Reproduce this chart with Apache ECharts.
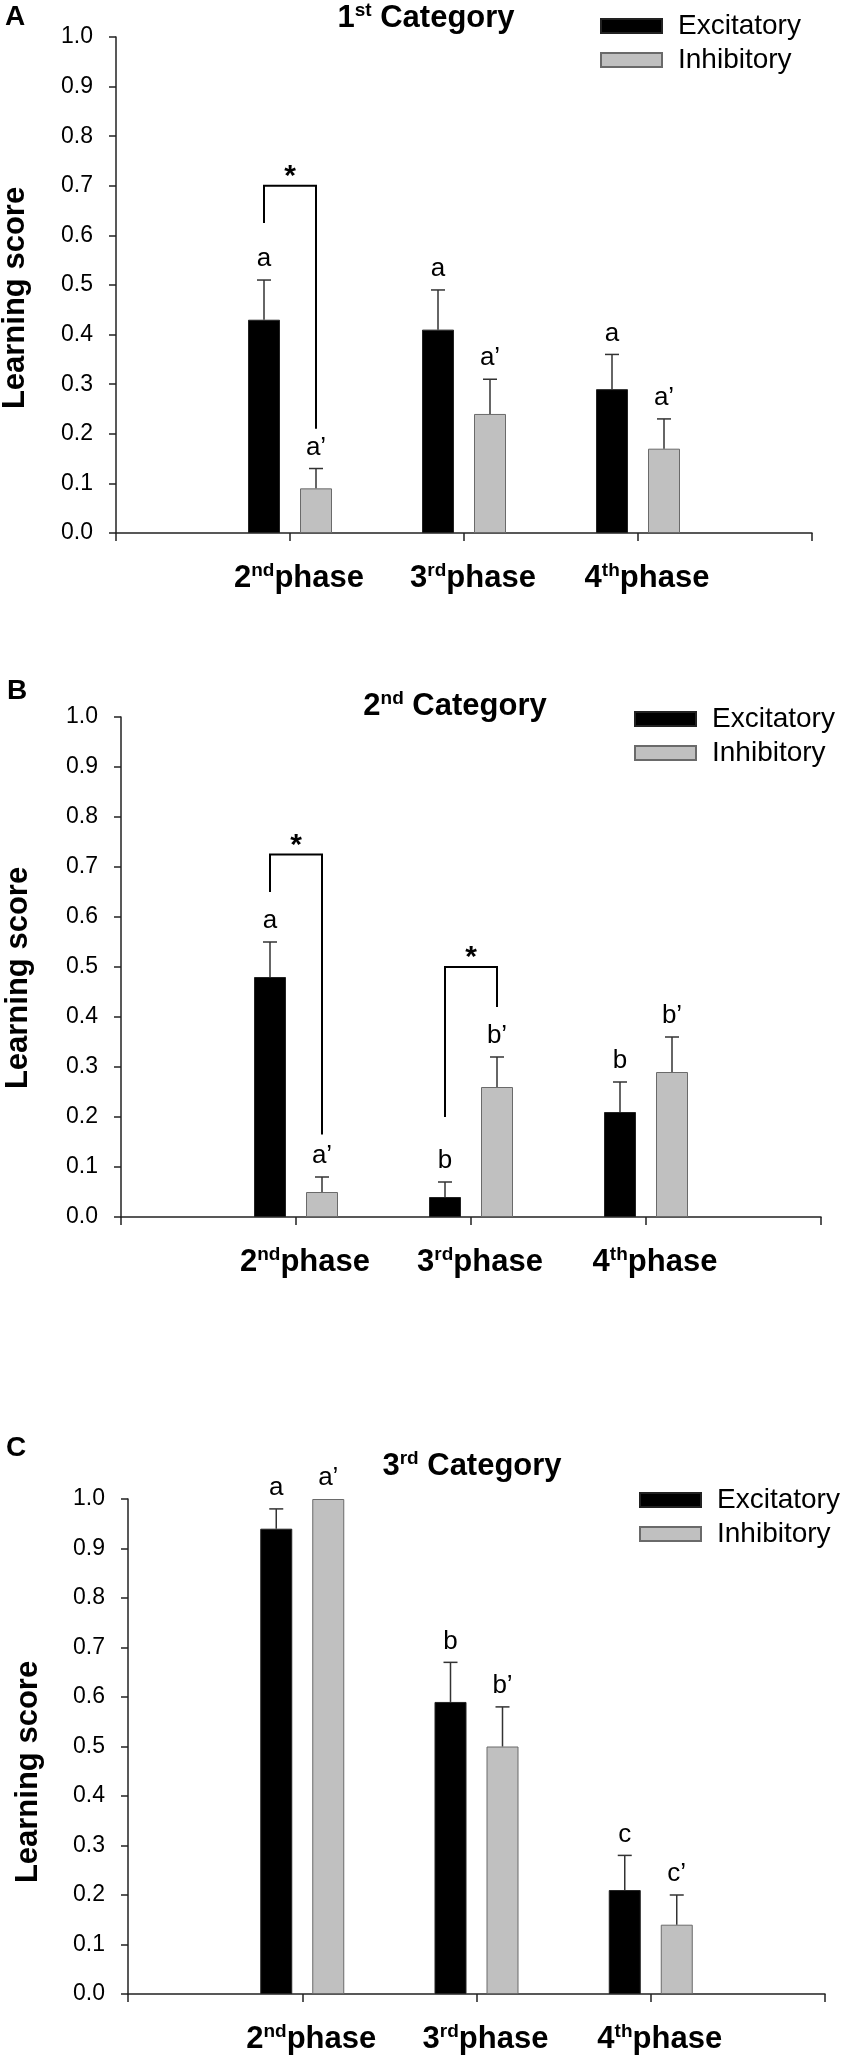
<!DOCTYPE html>
<html>
<head>
<meta charset="utf-8">
<title>Learning score</title>
<script src="https://cdn.jsdelivr.net/npm/echarts@6/dist/echarts.min.js"></script>
<style>
  html, body { margin: 0; padding: 0; background: #fff; }
  #chart { width: 843px; height: 2060px; }
</style>
</head>
<body>
<div id="chart"></div>
<script>
// ---- 数据 ----
var categories = ['', '2nd phase', '3rd phase', '4th phase', ''];
var seriesNames = ['Excitatory', 'Inhibitory'];
var panelLetters = ['A', 'B', 'C'];
var panelTitles = ['1st Category', '2nd Category', '3rd Category'];
var yName = 'Learning score';
var yMin = 0, yMax = 1, yStep = 0.1;

// A: 1st Category
var excA = [0.43, 0.41, 0.29];
var excSemA = [0.08, 0.08, 0.07];
var inhA = [0.09, 0.24, 0.17];
var inhSemA = [0.04, 0.07, 0.06];
var excLetA = ['a', 'a', 'a'];
var inhLetA = ['a’', 'a’', 'a’'];
var bracketsA = [[1, 0.70, 0.625, 0.21]];   // [phase, top, left foot, right foot]

// B: 2nd Category
var excB = [0.48, 0.04, 0.21];
var excSemB = [0.07, 0.03, 0.06];
var inhB = [0.05, 0.26, 0.29];
var inhSemB = [0.03, 0.06, 0.07];
var excLetB = ['a', 'b', 'b'];
var inhLetB = ['a’', 'b’', 'b’'];
var bracketsB = [[1, 0.725, 0.65, 0.165], [2, 0.50, 0.20, 0.42]];

// C: 3rd Category
var excC = [0.94, 0.59, 0.21];
var excSemC = [0.04, 0.08, 0.07];
var inhC = [1.00, 0.50, 0.14];
var inhSemC = [0, 0.08, 0.06];
var excLetC = ['a', 'b', 'c'];
var inhLetC = ['a’', 'b’', 'c’'];
var bracketsC = [];

var starMark = '*';

// ---- 版式 ----
var FONT = '"Liberation Sans", Arial, Helvetica, sans-serif';
var BAR_W = 32, BAR_GAP_PX = 20;
var BAR_OFFSET = (BAR_W + BAR_GAP_PX) / 2;

var panels = [
  { grid: { left: 116, top: 37, width: 696, height: 496 }, title: [426, 18], letter: [5, 17], legend: [600, 12], yNamePos: [15, 298],
    exc: excA, excSem: excSemA, inh: inhA, inhSem: inhSemA, excLet: excLetA, inhLet: inhLetA, brackets: bracketsA },
  { grid: { left: 121, top: 717, width: 700, height: 500 }, title: [455, 706], letter: [7, 691], legend: [634, 705], yNamePos: [18, 978],
    exc: excB, excSem: excSemB, inh: inhB, inhSem: inhSemB, excLet: excLetB, inhLet: inhLetB, brackets: bracketsB },
  { grid: { left: 128, top: 1499, width: 697, height: 495 }, title: [472, 1466], letter: [6, 1448], legend: [639, 1486], yNamePos: [28, 1772],
    exc: excC, excSem: excSemC, inh: inhC, inhSem: inhSemC, excLet: excLetC, inhLet: inhLetC, brackets: bracketsC }
];

// "2nd phase" -> 上标
function supText(str) {
  var m = str.match(/^(\d+)([a-z]{2})(.*)$/);
  if (!m) return str;
  return '{n|' + m[1] + '}{s|' + m[2] + '}{n|' + m[3] + '}';
}
var supRich = {
  n: { fontSize: 31, fontWeight: 'bold', fontFamily: FONT, color: '#000', lineHeight: 34, verticalAlign: 'middle' },
  s: { fontSize: 19, fontWeight: 'bold', fontFamily: FONT, color: '#000', lineHeight: 18, verticalAlign: 'top' }
};

function padData(arr) {
  return ['-'].concat(arr, ['-']);
}

// 误差线 + 显著性字母
function errSeries(p, means, sems, letters, side) {
  return {
    type: 'custom', xAxisIndex: p, yAxisIndex: p, silent: true, z: 4,
    data: means.map(function (m, i) { return [i + 1, m, sems[i]]; }),
    renderItem: function (params, api) {
      var cat = api.value(0), m = api.value(1), s = api.value(2);
      var base = api.coord([cat, m]);
      var top = api.coord([cat, m + s]);
      var x = base[0] + side * BAR_OFFSET;
      var children = [];
      if (s > 0) {
        children.push({ type: 'line', shape: { x1: x, y1: base[1], x2: x, y2: top[1] }, style: { stroke: '#333', lineWidth: 1.5 } });
        children.push({ type: 'line', shape: { x1: x - 7, y1: top[1], x2: x + 7, y2: top[1] }, style: { stroke: '#333', lineWidth: 1.5 } });
      }
      children.push({
        type: 'text', x: x, y: top[1] - 8,
        style: { text: letters[params.dataIndex], fontSize: 26, fontFamily: FONT, fill: '#000', align: 'center', verticalAlign: 'bottom' }
      });
      return { type: 'group', children: children };
    }
  };
}

// 括号 + 星号
function bracketSeries(p, brackets) {
  return {
    type: 'custom', xAxisIndex: p, yAxisIndex: p, silent: true, z: 5,
    data: brackets,
    renderItem: function (params, api) {
      var cat = api.value(0);
      var pt = api.coord([cat, api.value(1)]);
      var pl = api.coord([cat, api.value(2)]);
      var pr = api.coord([cat, api.value(3)]);
      var xl = pt[0] - BAR_OFFSET, xr = pt[0] + BAR_OFFSET;
      return {
        type: 'group',
        children: [
          { type: 'polyline', shape: { points: [[xl, pl[1]], [xl, pt[1]], [xr, pt[1]], [xr, pr[1]]] },
            style: { stroke: '#000', lineWidth: 2, fill: null } },
          { type: 'text', x: pt[0], y: pt[1] - 9,
            style: { text: starMark, fontSize: 30, fontWeight: 'bold', fontFamily: FONT, fill: '#000', align: 'center', verticalAlign: 'middle' } }
        ]
      };
    }
  };
}

var grids = [], xAxes = [], yAxes = [], series = [], legends = [], graphics = [];

panels.forEach(function (pn, p) {
  grids.push(Object.assign({ outerBoundsMode: 'none', containLabel: false }, pn.grid));

  xAxes.push({
    type: 'category', gridIndex: p, data: categories, boundaryGap: false,
    axisLine: { show: true, lineStyle: { color: '#222', width: 1.5 } },
    axisTick: { show: true, interval: 0, length: 8, lineStyle: { color: '#222', width: 1.5 } },
    axisLabel: {
      interval: 0, margin: 28, padding: [0, 0, 0, 18],
      // 原图中序数与 phase 之间没有空格
      formatter: function (v) { return v ? supText(v.replace(' ', '')) : ''; },
      rich: supRich
    },
    splitLine: { show: false }
  });

  yAxes.push({
    type: 'value', gridIndex: p, min: yMin, max: yMax, interval: yStep,
    axisLine: { show: true, lineStyle: { color: '#222', width: 1.5 } },
    axisTick: { show: true, length: 7, lineStyle: { color: '#222', width: 1.5 } },
    axisLabel: { margin: 23, fontSize: 23, fontFamily: FONT, color: '#000',
      formatter: function (v) { return v.toFixed(1); } },
    splitLine: { show: false }
  });

  series.push({
    name: seriesNames[0], type: 'bar', xAxisIndex: p, yAxisIndex: p,
    data: padData(pn.exc), barWidth: BAR_W, barGap: (BAR_GAP_PX / BAR_W * 100) + '%',
    itemStyle: { color: '#000', borderColor: '#222', borderWidth: 1 }, silent: true
  });
  series.push({
    name: seriesNames[1], type: 'bar', xAxisIndex: p, yAxisIndex: p,
    data: padData(pn.inh), barWidth: BAR_W, barGap: (BAR_GAP_PX / BAR_W * 100) + '%',
    itemStyle: { color: '#c0c0c0', borderColor: '#6a6a6a', borderWidth: 1 }, silent: true
  });
  series.push(errSeries(p, pn.exc, pn.excSem, pn.excLet, -1));
  series.push(errSeries(p, pn.inh, pn.inhSem, pn.inhLet, 1));
  if (pn.brackets.length) series.push(bracketSeries(p, pn.brackets));

  legends.push({
    data: seriesNames, orient: 'vertical', left: pn.legend[0], top: pn.legend[1],
    padding: 0, itemWidth: 61, itemHeight: 14, itemGap: 6, icon: 'rect', selectedMode: false,
    textStyle: { fontSize: 28, lineHeight: 28, fontFamily: FONT, color: '#000', padding: [0, 0, 0, 11] }
  });

  graphics.push({
    type: 'text', x: pn.letter[0], y: pn.letter[1],
    style: { text: panelLetters[p], fontSize: 28, fontWeight: 'bold', fontFamily: FONT, fill: '#000', align: 'left', verticalAlign: 'middle' }
  });
  graphics.push({
    type: 'text', x: pn.title[0], y: pn.title[1],
    style: { text: supText(panelTitles[p]), rich: supRich, align: 'center', verticalAlign: 'middle' }
  });
  // 纵轴标题
  graphics.push({
    type: 'text', x: pn.yNamePos[0], y: pn.yNamePos[1], rotation: Math.PI / 2,
    style: { text: yName, fontSize: 31, fontWeight: 'bold', fontFamily: FONT, fill: '#000', align: 'center', verticalAlign: 'middle' }
  });
});

var myChart = echarts.init(document.getElementById('chart'), null, { renderer: 'canvas' });
myChart.setOption({
  animation: false,
  backgroundColor: '#fff',
  textStyle: { fontFamily: FONT },
  grid: grids,
  xAxis: xAxes,
  yAxis: yAxes,
  legend: legends,
  graphic: graphics,
  series: series
});
</script>
</body>
</html>
